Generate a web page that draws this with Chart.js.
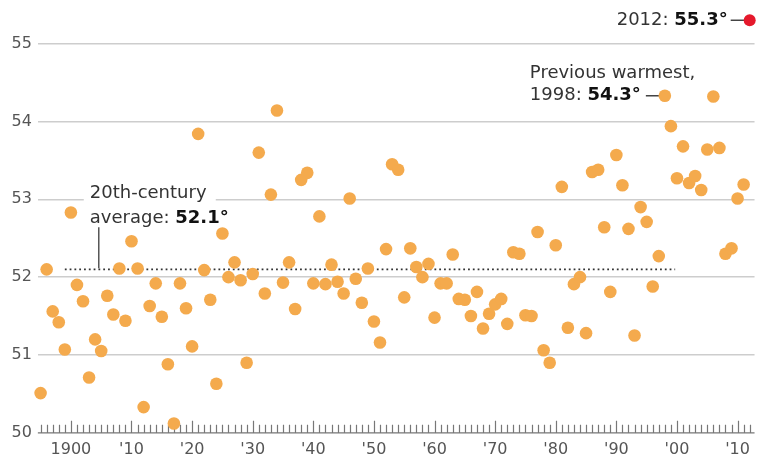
<!DOCTYPE html>
<html>
<head>
<meta charset="utf-8">
<script src="https://cdn.jsdelivr.net/npm/chart.js@4.4.1/dist/chart.umd.min.js"></script>
<style>
html,body{margin:0;padding:0;background:#fff;}
#wrap{width:757px;height:458px;position:relative;}
</style>
</head>
<body>
<div id="wrap"><canvas id="c"></canvas></div>
<script>
// ---- data ----
const years = [1895,1896,1897,1898,1899,1900,1901,1902,1903,1904,1905,1906,1907,1908,1909,
  1910,1911,1912,1913,1914,1915,1916,1917,1918,1919,1920,1921,1922,1923,1924,1925,1926,1927,1928,1929,
  1930,1931,1932,1933,1934,1935,1936,1937,1938,1939,1940,1941,1942,1943,1944,1945,1946,1947,1948,1949,
  1950,1951,1952,1953,1954,1955,1956,1957,1958,1959,1960,1961,1962,1963,1964,1965,1966,1967,1968,1969,
  1970,1971,1972,1973,1974,1975,1976,1977,1978,1979,1980,1981,1982,1983,1984,1985,1986,1987,1988,1989,
  1990,1991,1992,1993,1994,1995,1996,1997,1998,1999,2000,2001,2002,2003,2004,2005,2006,2007,2008,2009,
  2010,2011];
const temps = [50.51,52.10,51.56,51.42,51.07,52.83,51.90,51.69,50.71,51.20,51.05,51.76,51.52,52.11,51.44,
  52.46,52.11,50.33,51.63,51.92,51.49,50.88,50.12,51.92,51.60,51.11,53.84,52.09,51.71,50.63,52.56,52.00,52.19,51.96,50.90,
  52.04,53.60,51.79,53.06,54.14,51.93,52.19,51.59,53.25,53.34,51.92,52.78,51.91,52.16,51.94,51.79,53.01,51.98,51.67,52.11,
  51.43,51.16,52.36,53.45,53.38,51.74,52.37,52.13,52.00,52.17,51.48,51.92,51.92,52.29,51.72,51.71,51.50,51.81,51.34,51.53,
  51.65,51.72,51.40,52.32,52.30,51.51,51.50,52.58,51.06,50.90,52.41,53.16,51.35,51.91,52.00,51.28,53.35,53.38,52.64,51.81,
  53.57,53.18,52.62,51.25,52.90,52.71,51.88,52.27,54.33,53.94,53.27,53.68,53.21,53.30,53.12,53.64,54.32,53.66,52.30,52.37,
  53.01,53.19];
const recordYears = [2012];
const recordTemps = [55.3];
const prevWarmYear = 1998;
const prevWarmTemp = 54.33;
const avgValue = 52.1;
const avgSpan = [1899, 1999.7];
const yTickValues = [50,51,52,53,54,55];
const xTickYears = [1900,1910,1920,1930,1940,1950,1960,1970,1980,1990,2000,2010];
const xTickLabels = ['1900',"'10","'20","'30","'40","'50","'60","'70","'80","'90","'00","'10"];
const minorTickRange = [1895, 2012];

// ---- chart ----
const FONT = "'DejaVu Sans'";
const orange = '#F4AA4D';
const red = '#E5192C';

function drawMixed(ctx, parts, x, y, align) {
  let widths = parts.map(p => { ctx.font = (p[1] ? 'bold ' : '') + '18px ' + FONT; return ctx.measureText(p[0]).width; });
  let total = widths.reduce((a,b)=>a+b,0);
  let cx = align === 'right' ? x - total : x;
  ctx.textBaseline = 'middle';
  ctx.textAlign = 'left';
  parts.forEach((p,i) => {
    ctx.font = (p[1] ? 'bold ' : '') + '18px ' + FONT;
    ctx.fillStyle = p[1] ? '#111' : '#333';
    ctx.fillText(p[0], cx, y);
    cx += widths[i];
  });
  return {left: align === 'right' ? x - total : x, right: align === 'right' ? x : x + total};
}

const annot = {
  id: 'annot',
  beforeDatasetsDraw(chart) {
    const {ctx, scales: {x, y}} = chart;
    ctx.save();
    // baseline + year ticks
    const y0 = y.getPixelForValue(50);
    ctx.strokeStyle = '#777';
    ctx.lineWidth = 1.2;
    ctx.beginPath();
    ctx.moveTo(x.left, y0); ctx.lineTo(x.right, y0);
    for (let yr = minorTickRange[0]; yr <= minorTickRange[1]; yr++) {
      const px = Math.round(x.getPixelForValue(yr)) + 0.5;
      const len = (yr % 10 === 0) ? 12 : 8;
      ctx.moveTo(px, y0); ctx.lineTo(px, y0 - len);
    }
    ctx.stroke();

    // dotted 20th-century average line
    const ya = y.getPixelForValue(avgValue);
    ctx.strokeStyle = '#333';
    ctx.lineWidth = 1.8;
    ctx.setLineDash([1.8, 3.0]);
    ctx.beginPath();
    ctx.moveTo(x.getPixelForValue(avgSpan[0]), ya);
    ctx.lineTo(x.getPixelForValue(avgSpan[1]), ya);
    ctx.stroke();
    ctx.setLineDash([]);

    // average label
    const ax = x.getPixelForValue(1904.6);
    ctx.strokeStyle = '#555';
    ctx.lineWidth = 1.5;
    ctx.beginPath();
    ctx.moveTo(ax, ya - 1); ctx.lineTo(ax, ya - 42);
    ctx.stroke();
    const g53 = y.getPixelForValue(53);
    ctx.fillStyle = '#fff';
    ctx.fillRect(ax - 15, g53 - 3, 132, 6);
    drawMixed(ctx, [['20th-century', false]], ax - 9, ya - 76, 'left');
    drawMixed(ctx, [['average: ', false], ['52.1°', true]], ax - 9, ya - 51, 'left');

    // previous warmest label
    const px98 = x.getPixelForValue(prevWarmYear), py98 = y.getPixelForValue(prevWarmTemp);
    drawMixed(ctx, [['Previous warmest,', false]], px98 - 135, py98 - 22, 'left');
    const r98 = drawMixed(ctx, [['1998: ', false], ['54.3°', true]], px98 - 135, py98, 'left');
    ctx.strokeStyle = '#444';
    ctx.lineWidth = 1.5;
    ctx.beginPath();
    ctx.moveTo(r98.right + 5, py98); ctx.lineTo(px98 - 5, py98);
    ctx.stroke();

    // 2012 label
    const px12 = x.getPixelForValue(recordYears[0]), py12 = y.getPixelForValue(recordTemps[0]);
    drawMixed(ctx, [['2012: ', false], ['55.3°', true]], px12 - 22, py12, 'right');
    ctx.beginPath();
    ctx.moveTo(px12 - 19, py12); ctx.lineTo(px12 - 5, py12);
    ctx.stroke();
    ctx.restore();
  }
};

new Chart(document.getElementById('c'), {
  type: 'scatter',
  data: {
    datasets: [
      {
        data: years.map((yr, i) => ({x: yr, y: temps[i]})),
        backgroundColor: orange,
        borderWidth: 0,
        pointRadius: 6.3,
        pointHoverRadius: 6.3,
        clip: false
      },
      {
        data: recordYears.map((yr, i) => ({x: yr, y: recordTemps[i]})),
        backgroundColor: red,
        borderWidth: 0,
        pointRadius: 6,
        pointHoverRadius: 6,
        clip: false
      }
    ]
  },
  options: {
    responsive: true,
    maintainAspectRatio: false,
    animation: false,
    events: [],
    layout: {autoPadding: false, padding: {top: 12, left: 5.5, right: 2, bottom: -8}},
    plugins: {legend: {display: false}, tooltip: {enabled: false}},
    scales: {
      x: {
        type: 'linear',
        min: 1894.55,
        max: 2012.8,
        afterBuildTicks: s => { s.ticks = xTickYears.map(v => ({value: v})); },
        ticks: {
          autoSkip: false,
          maxRotation: 0,
          padding: 7,
          color: '#555',
          font: {family: FONT, size: 16},
          callback: v => xTickLabels[xTickYears.indexOf(v)]
        },
        grid: {display: false, drawTicks: false},
        border: {display: false}
      },
      y: {
        min: 50,
        max: 55.36,
        afterBuildTicks: s => { s.ticks = yTickValues.map(v => ({value: v})); },
        ticks: {
          padding: 6,
          color: '#555',
          font: {family: FONT, size: 16}
        },
        grid: {
          drawTicks: false,
          lineWidth: 1.5,
          color: c => (c.tick && c.tick.value === 50) ? 'rgba(0,0,0,0)' : '#cdcdcd'
        },
        border: {display: false}
      }
    }
  },
  plugins: [annot]
});
</script>
</body>
</html>
